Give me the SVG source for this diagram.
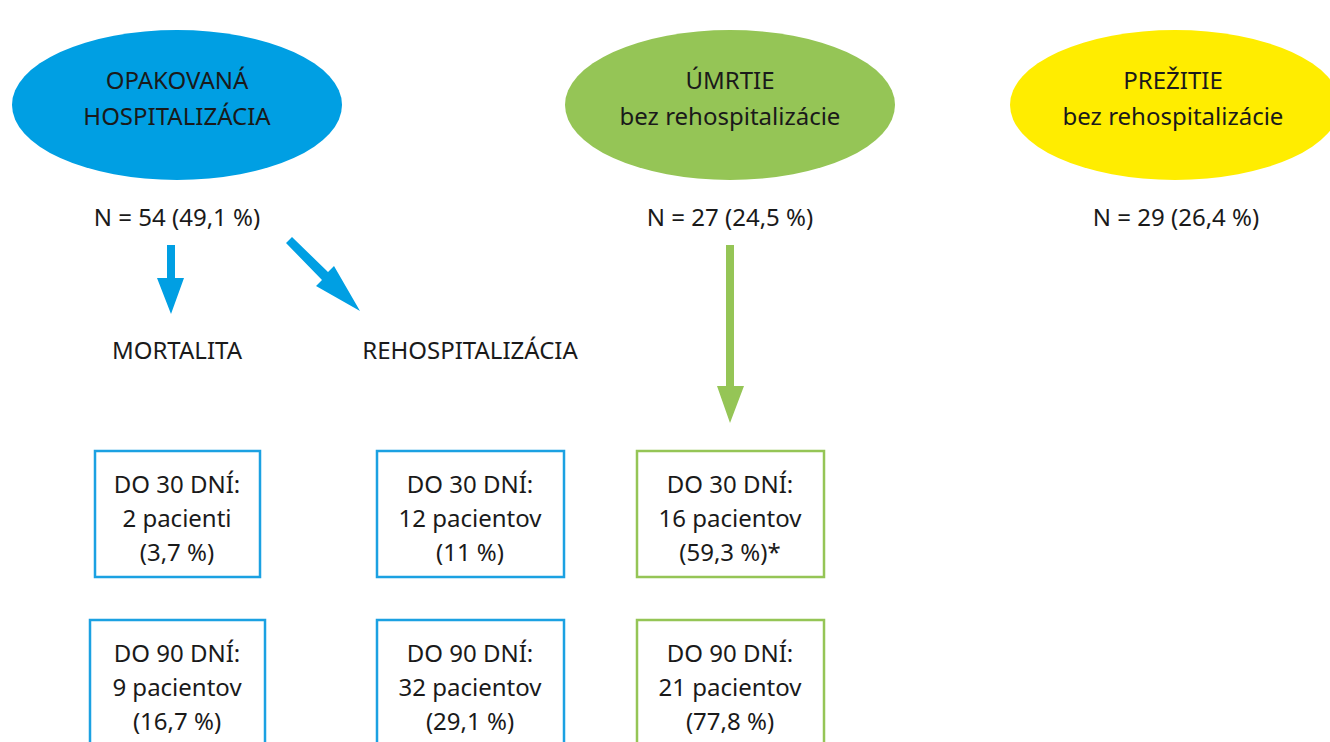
<svg xmlns="http://www.w3.org/2000/svg" width="1330" height="742" viewBox="0 0 1330 742">
<style>
text{font-family:"Noto Sans","Open Sans","Liberation Sans",sans-serif;font-size:24px;fill:#1a1a1a;text-anchor:middle}
.bb{fill:#fff;stroke:#1ba1e2;stroke-width:2.5}
.gb{fill:#fff;stroke:#95c556;stroke-width:2.5}
</style>
<rect width="1330" height="742" fill="#fff"/>
<g id="opakovana">
<ellipse cx="177" cy="105" rx="165" ry="75" fill="#009fe3"/>
<text x="177" y="89">OPAKOVANÁ</text>
<text x="177" y="125">HOSPITALIZÁCIA</text>
<text x="177" y="226">N = 54 (49,1 %)</text>
</g>
<g id="umrtie">
<ellipse cx="730" cy="105" rx="165" ry="75" fill="#95c556"/>
<text x="730" y="89">ÚMRTIE</text>
<text x="730" y="125">bez rehospitalizácie</text>
<text x="730" y="226">N = 27 (24,5 %)</text>
</g>
<g id="prezitie">
<ellipse cx="1175" cy="105" rx="165" ry="75" fill="#ffed00"/>
<text x="1173" y="89">PREŽITIE</text>
<text x="1173" y="125">bez rehospitalizácie</text>
<text x="1176" y="226">N = 29 (26,4 %)</text>
</g>
<g id="mortalita">
<text x="177" y="359">MORTALITA</text>
</g>
<g id="rehospitalizacia">
<text x="470" y="359">REHOSPITALIZÁCIA</text>
</g>
<g id="box-m30">
<rect class="bb" x="95" y="451" width="165" height="126"/>
<text x="177" y="493">DO 30 DNÍ:</text>
<text x="177" y="527">2 pacienti</text>
<text x="177" y="561">(3,7 %)</text>
</g>
<g id="box-m90">
<rect class="bb" x="90" y="620" width="175" height="140"/>
<text x="177" y="662">DO 90 DNÍ:</text>
<text x="177" y="696">9 pacientov</text>
<text x="177" y="730">(16,7 %)</text>
</g>
<g id="box-r30">
<rect class="bb" x="377" y="451" width="187" height="126"/>
<text x="470" y="493">DO 30 DNÍ:</text>
<text x="470" y="527">12 pacientov</text>
<text x="470" y="561">(11 %)</text>
</g>
<g id="box-r90">
<rect class="bb" x="377" y="620" width="187" height="140"/>
<text x="470" y="662">DO 90 DNÍ:</text>
<text x="470" y="696">32 pacientov</text>
<text x="470" y="730">(29,1 %)</text>
</g>
<g id="box-u30">
<rect class="gb" x="637" y="451" width="187" height="126"/>
<text x="730" y="493">DO 30 DNÍ:</text>
<text x="730" y="527">16 pacientov</text>
<text x="730" y="561">(59,3 %)*</text>
</g>
<g id="box-u90">
<rect class="gb" x="637" y="620" width="187" height="140"/>
<text x="730" y="662">DO 90 DNÍ:</text>
<text x="730" y="696">21 pacientov</text>
<text x="730" y="730">(77,8 %)</text>
</g>
<g id="connectors">
<polygon fill="#009fe3" points="167,245 175,245 175,278 184,278 171,314 157,278 167,278"/>
<polygon fill="#009fe3" points="286,243 292,237 328,272 334,266 360,311 316,286 322,280"/>
<polygon fill="#95c556" points="726,245 734,245 734,386 744,386 730,423 717,386 726,386"/>
</g>
</svg>
